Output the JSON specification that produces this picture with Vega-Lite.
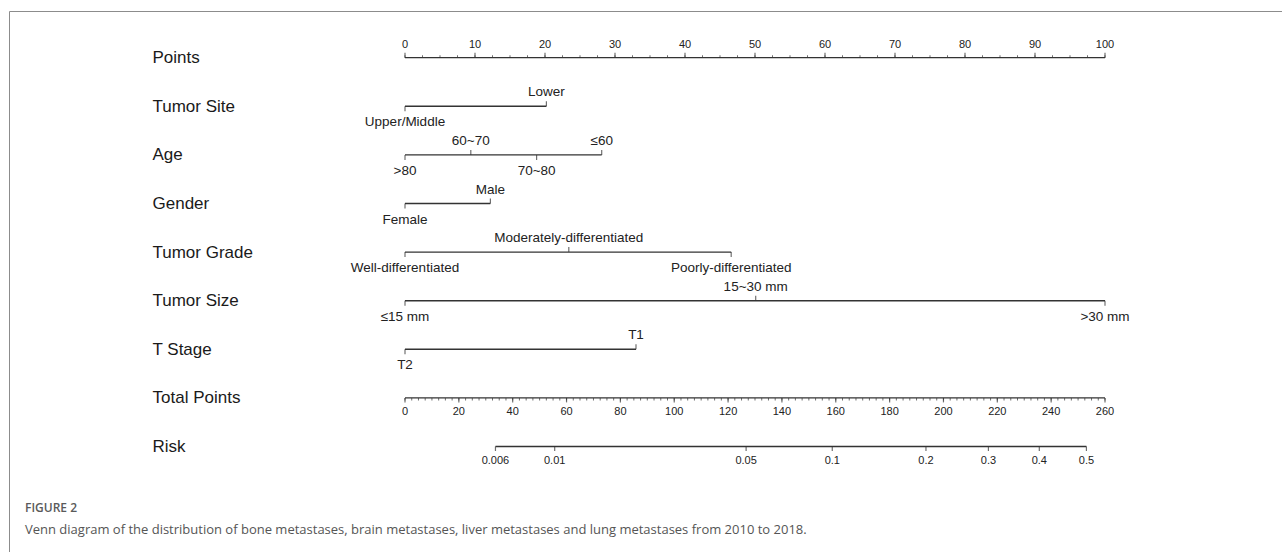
{
  "$schema": "https://vega.github.io/schema/vega-lite/v6.json",
  "width": 1273,
  "height": 541,
  "autosize": "none",
  "padding": {"left": 9, "top": 11, "right": 0, "bottom": 0},
  "background": "white",
  "config": {
    "view": {"stroke": null},
    "font": "Liberation Sans",
    "axisY": {"domain": false, "ticks": false, "tickSize": 0, "grid": false, "labelAlign": "left", "labelBaseline": "middle", "labelPadding": -143, "labelFont": "Liberation Sans", "labelFontSize": 17, "labelColor": "#1a1a1a", "labelFlush": false, "labelOverlap": false, "labelBound": false, "labelLimit": 0}
  },
  "title": {
    "text": "FIGURE 2",
    "subtitle": "Venn diagram of the distribution of bone metastases, brain metastases, liver metastases and lung metastases from 2010 to 2018.",
    "orient": "bottom",
    "anchor": "start",
    "frame": "group",
    "offset": -52,
    "dx": 16,
    "font": "Open Sans",
    "fontSize": 12,
    "fontWeight": 600,
    "color": "#5a5a5a",
    "subtitleFont": "Open Sans",
    "subtitleFontSize": 13,
    "subtitleColor": "#555555",
    "subtitlePadding": 9
  },
  "datasets": {
    "levels": [
      {"var": "Tumor Site", "level": "Upper/Middle", "pts": 0, "side": "below"},
      {"var": "Tumor Site", "level": "Lower", "pts": 20.2, "side": "above"},
      {"var": "Age", "level": ">80", "pts": 0, "side": "below"},
      {"var": "Age", "level": "60~70", "pts": 9.4, "side": "above"},
      {"var": "Age", "level": "70~80", "pts": 18.8, "side": "below"},
      {"var": "Age", "level": "≤60", "pts": 28.1, "side": "above"},
      {"var": "Gender", "level": "Female", "pts": 0, "side": "below"},
      {"var": "Gender", "level": "Male", "pts": 12.2, "side": "above"},
      {"var": "Tumor Grade", "level": "Well-differentiated", "pts": 0, "side": "below"},
      {"var": "Tumor Grade", "level": "Moderately-differentiated", "pts": 23.4, "side": "above"},
      {"var": "Tumor Grade", "level": "Poorly-differentiated", "pts": 46.6, "side": "below"},
      {"var": "Tumor Size", "level": "≤15 mm", "pts": 0, "side": "below"},
      {"var": "Tumor Size", "level": "15~30 mm", "pts": 50.1, "side": "above"},
      {"var": "Tumor Size", "level": ">30 mm", "pts": 100, "side": "below"},
      {"var": "T Stage", "level": "T2", "pts": 0, "side": "below"},
      {"var": "T Stage", "level": "T1", "pts": 33, "side": "above"}
    ],
    "pointsMajor": [
      {"v": 0}, {"v": 10}, {"v": 20}, {"v": 30}, {"v": 40}, {"v": 50},
      {"v": 60}, {"v": 70}, {"v": 80}, {"v": 90}, {"v": 100}
    ],
    "pointsMinor": [
      {"v": 0}, {"v": 2.5}, {"v": 5}, {"v": 7.5}, {"v": 10}, {"v": 12.5}, {"v": 15}, {"v": 17.5},
      {"v": 20}, {"v": 22.5}, {"v": 25}, {"v": 27.5}, {"v": 30}, {"v": 32.5}, {"v": 35}, {"v": 37.5},
      {"v": 40}, {"v": 42.5}, {"v": 45}, {"v": 47.5}, {"v": 50}, {"v": 52.5}, {"v": 55}, {"v": 57.5},
      {"v": 60}, {"v": 62.5}, {"v": 65}, {"v": 67.5}, {"v": 70}, {"v": 72.5}, {"v": 75}, {"v": 77.5},
      {"v": 80}, {"v": 82.5}, {"v": 85}, {"v": 87.5}, {"v": 90}, {"v": 92.5}, {"v": 95}, {"v": 97.5},
      {"v": 100}
    ],
    "totalMajor": [
      {"t": 0}, {"t": 20}, {"t": 40}, {"t": 60}, {"t": 80}, {"t": 100}, {"t": 120},
      {"t": 140}, {"t": 160}, {"t": 180}, {"t": 200}, {"t": 220}, {"t": 240}, {"t": 260}
    ],
    "totalMinor": [
      {"t": 0}, {"t": 2.5}, {"t": 5}, {"t": 7.5}, {"t": 10}, {"t": 12.5}, {"t": 15}, {"t": 17.5},
      {"t": 20}, {"t": 22.5}, {"t": 25}, {"t": 27.5}, {"t": 30}, {"t": 32.5}, {"t": 35}, {"t": 37.5},
      {"t": 40}, {"t": 42.5}, {"t": 45}, {"t": 47.5}, {"t": 50}, {"t": 52.5}, {"t": 55}, {"t": 57.5},
      {"t": 60}, {"t": 62.5}, {"t": 65}, {"t": 67.5}, {"t": 70}, {"t": 72.5}, {"t": 75}, {"t": 77.5},
      {"t": 80}, {"t": 82.5}, {"t": 85}, {"t": 87.5}, {"t": 90}, {"t": 92.5}, {"t": 95}, {"t": 97.5},
      {"t": 100}, {"t": 102.5}, {"t": 105}, {"t": 107.5}, {"t": 110}, {"t": 112.5}, {"t": 115}, {"t": 117.5},
      {"t": 120}, {"t": 122.5}, {"t": 125}, {"t": 127.5}, {"t": 130}, {"t": 132.5}, {"t": 135}, {"t": 137.5},
      {"t": 140}, {"t": 142.5}, {"t": 145}, {"t": 147.5}, {"t": 150}, {"t": 152.5}, {"t": 155}, {"t": 157.5},
      {"t": 160}, {"t": 162.5}, {"t": 165}, {"t": 167.5}, {"t": 170}, {"t": 172.5}, {"t": 175}, {"t": 177.5},
      {"t": 180}, {"t": 182.5}, {"t": 185}, {"t": 187.5}, {"t": 190}, {"t": 192.5}, {"t": 195}, {"t": 197.5},
      {"t": 200}, {"t": 202.5}, {"t": 205}, {"t": 207.5}, {"t": 210}, {"t": 212.5}, {"t": 215}, {"t": 217.5},
      {"t": 220}, {"t": 222.5}, {"t": 225}, {"t": 227.5}, {"t": 230}, {"t": 232.5}, {"t": 235}, {"t": 237.5},
      {"t": 240}, {"t": 242.5}, {"t": 245}, {"t": 247.5}, {"t": 250}, {"t": 252.5}, {"t": 255}, {"t": 257.5},
      {"t": 260}
    ],
    "risk": [
      {"risk": "0.006", "t": 33.6},
      {"risk": "0.01", "t": 55.6},
      {"risk": "0.05", "t": 126.7},
      {"risk": "0.1", "t": 158.7},
      {"risk": "0.2", "t": 193.5},
      {"risk": "0.3", "t": 216.7},
      {"risk": "0.4", "t": 235.6},
      {"risk": "0.5", "t": 253.1}
    ]
  },
  "layer": [
    {
      "data": {"values": [{}]},
      "mark": {"type": "point", "opacity": 0},
      "encoding": {
        "x": {"datum": 0, "type": "quantitative", "scale": {"domain": [0, 1]},
              "axis": {"orient": "top", "domain": true, "domainColor": "#8c8c8c", "domainWidth": 1, "ticks": false, "labels": false, "grid": false, "title": null}},
        "y": {"datum": 0, "type": "quantitative", "scale": {"domain": [0, 1]},
              "axis": {"orient": "left", "domain": true, "domainColor": "#8c8c8c", "domainWidth": 1, "ticks": false, "labels": false, "grid": false, "title": null}}
      }
    },
    {
      "layer": [
        {
          "layer": [
            {
              "data": {"name": "levels"},
              "mark": {"type": "rule", "color": "#333333", "strokeWidth": 1.4},
              "encoding": {
                "x": {"aggregate": "min", "field": "pts", "type": "quantitative", "scale": {"domain": [0, 100], "range": [396, 1096]}, "axis": null},
                "x2": {"aggregate": "max", "field": "pts"},
                "y": {"field": "var", "type": "nominal",
                      "scale": {"type": "point", "domain": ["Points", "Tumor Site", "Age", "Gender", "Tumor Grade", "Tumor Size", "T Stage", "Total Points", "Risk"], "range": [46.7, 435.5], "padding": 0},
                      "axis": {"orient": "left", "title": null}}
              }
            },
            {
              "data": {"name": "levels"},
              "transform": [{"filter": "datum.side === 'above'"}],
              "mark": {"type": "tick", "orient": "vertical", "size": 5, "thickness": 1.2, "yOffset": -2.5, "color": "#333333"},
              "encoding": {
                "x": {"field": "pts", "type": "quantitative", "scale": {"domain": [0, 100], "range": [396, 1096]}, "axis": null},
                "y": {"field": "var", "type": "nominal", "scale": {"type": "point", "domain": ["Points", "Tumor Site", "Age", "Gender", "Tumor Grade", "Tumor Size", "T Stage", "Total Points", "Risk"], "range": [46.7, 435.5], "padding": 0}, "axis": {"orient": "left", "title": null}}
              }
            },
            {
              "data": {"name": "levels"},
              "transform": [{"filter": "datum.side === 'below'"}],
              "mark": {"type": "tick", "orient": "vertical", "size": 5, "thickness": 1.2, "yOffset": 2.5, "color": "#333333"},
              "encoding": {
                "x": {"field": "pts", "type": "quantitative", "scale": {"domain": [0, 100], "range": [396, 1096]}, "axis": null},
                "y": {"field": "var", "type": "nominal", "scale": {"type": "point", "domain": ["Points", "Tumor Site", "Age", "Gender", "Tumor Grade", "Tumor Size", "T Stage", "Total Points", "Risk"], "range": [46.7, 435.5], "padding": 0}, "axis": {"orient": "left", "title": null}}
              }
            },
            {
              "data": {"name": "levels"},
              "transform": [{"filter": "datum.side === 'above'"}],
              "mark": {"type": "text", "dy": -14, "baseline": "middle", "align": "center", "font": "Liberation Sans", "fontSize": 13.5, "color": "#222222"},
              "encoding": {
                "x": {"field": "pts", "type": "quantitative", "scale": {"domain": [0, 100], "range": [396, 1096]}, "axis": null},
                "y": {"field": "var", "type": "nominal", "scale": {"type": "point", "domain": ["Points", "Tumor Site", "Age", "Gender", "Tumor Grade", "Tumor Size", "T Stage", "Total Points", "Risk"], "range": [46.7, 435.5], "padding": 0}, "axis": {"orient": "left", "title": null}},
                "text": {"field": "level"}
              }
            },
            {
              "data": {"name": "levels"},
              "transform": [{"filter": "datum.side === 'below'"}],
              "mark": {"type": "text", "dy": 16, "baseline": "middle", "align": "center", "font": "Liberation Sans", "fontSize": 13.5, "color": "#222222"},
              "encoding": {
                "x": {"field": "pts", "type": "quantitative", "scale": {"domain": [0, 100], "range": [396, 1096]}, "axis": null},
                "y": {"field": "var", "type": "nominal", "scale": {"type": "point", "domain": ["Points", "Tumor Site", "Age", "Gender", "Tumor Grade", "Tumor Size", "T Stage", "Total Points", "Risk"], "range": [46.7, 435.5], "padding": 0}, "axis": {"orient": "left", "title": null}},
                "text": {"field": "level"}
              }
            },
            {
              "data": {"name": "pointsMinor"},
              "mark": {"type": "rule", "color": "#333333", "strokeWidth": 1.3},
              "encoding": {
                "x": {"aggregate": "min", "field": "v", "type": "quantitative", "scale": {"domain": [0, 100], "range": [396, 1096]}, "axis": null},
                "x2": {"aggregate": "max", "field": "v"},
                "y": {"datum": "Points", "type": "nominal", "scale": {"type": "point", "domain": ["Points", "Tumor Site", "Age", "Gender", "Tumor Grade", "Tumor Size", "T Stage", "Total Points", "Risk"], "range": [46.7, 435.5], "padding": 0}, "axis": {"orient": "left", "title": null}}
              }
            },
            {
              "data": {"name": "pointsMinor"},
              "mark": {"type": "tick", "orient": "vertical", "size": 2.5, "thickness": 1, "yOffset": -1.25, "color": "#333333"},
              "encoding": {
                "x": {"field": "v", "type": "quantitative", "scale": {"domain": [0, 100], "range": [396, 1096]}, "axis": null},
                "y": {"datum": "Points", "type": "nominal", "scale": {"type": "point", "domain": ["Points", "Tumor Site", "Age", "Gender", "Tumor Grade", "Tumor Size", "T Stage", "Total Points", "Risk"], "range": [46.7, 435.5], "padding": 0}, "axis": {"orient": "left", "title": null}}
              }
            },
            {
              "data": {"name": "pointsMajor"},
              "mark": {"type": "tick", "orient": "vertical", "size": 5, "thickness": 1.2, "yOffset": -2.5, "color": "#333333"},
              "encoding": {
                "x": {"field": "v", "type": "quantitative", "scale": {"domain": [0, 100], "range": [396, 1096]}, "axis": null},
                "y": {"datum": "Points", "type": "nominal", "scale": {"type": "point", "domain": ["Points", "Tumor Site", "Age", "Gender", "Tumor Grade", "Tumor Size", "T Stage", "Total Points", "Risk"], "range": [46.7, 435.5], "padding": 0}, "axis": {"orient": "left", "title": null}}
              }
            },
            {
              "data": {"name": "pointsMajor"},
              "mark": {"type": "text", "dy": -13, "baseline": "middle", "align": "center", "font": "Liberation Sans", "fontSize": 11, "color": "#222222"},
              "encoding": {
                "x": {"field": "v", "type": "quantitative", "scale": {"domain": [0, 100], "range": [396, 1096]}, "axis": null},
                "y": {"datum": "Points", "type": "nominal", "scale": {"type": "point", "domain": ["Points", "Tumor Site", "Age", "Gender", "Tumor Grade", "Tumor Size", "T Stage", "Total Points", "Risk"], "range": [46.7, 435.5], "padding": 0}, "axis": {"orient": "left", "title": null}},
                "text": {"field": "v", "type": "quantitative"}
              }
            }
          ]
        },
        {
          "layer": [
            {
              "data": {"name": "totalMinor"},
              "mark": {"type": "rule", "color": "#333333", "strokeWidth": 1.3},
              "encoding": {
                "x": {"aggregate": "min", "field": "t", "type": "quantitative", "scale": {"domain": [0, 260], "range": [396, 1096]}, "axis": null},
                "x2": {"aggregate": "max", "field": "t"},
                "y": {"datum": "Total Points", "type": "nominal", "scale": {"type": "point", "domain": ["Points", "Tumor Site", "Age", "Gender", "Tumor Grade", "Tumor Size", "T Stage", "Total Points", "Risk"], "range": [46.7, 435.5], "padding": 0}, "axis": {"orient": "left", "title": null}}
              }
            },
            {
              "data": {"name": "totalMinor"},
              "mark": {"type": "tick", "orient": "vertical", "size": 2.5, "thickness": 1, "yOffset": 1.25, "color": "#333333"},
              "encoding": {
                "x": {"field": "t", "type": "quantitative", "scale": {"domain": [0, 260], "range": [396, 1096]}, "axis": null},
                "y": {"datum": "Total Points", "type": "nominal", "scale": {"type": "point", "domain": ["Points", "Tumor Site", "Age", "Gender", "Tumor Grade", "Tumor Size", "T Stage", "Total Points", "Risk"], "range": [46.7, 435.5], "padding": 0}, "axis": {"orient": "left", "title": null}}
              }
            },
            {
              "data": {"name": "totalMajor"},
              "mark": {"type": "tick", "orient": "vertical", "size": 4.5, "thickness": 1.2, "yOffset": 2.25, "color": "#333333"},
              "encoding": {
                "x": {"field": "t", "type": "quantitative", "scale": {"domain": [0, 260], "range": [396, 1096]}, "axis": null},
                "y": {"datum": "Total Points", "type": "nominal", "scale": {"type": "point", "domain": ["Points", "Tumor Site", "Age", "Gender", "Tumor Grade", "Tumor Size", "T Stage", "Total Points", "Risk"], "range": [46.7, 435.5], "padding": 0}, "axis": {"orient": "left", "title": null}}
              }
            },
            {
              "data": {"name": "totalMajor"},
              "mark": {"type": "text", "dy": 14, "baseline": "middle", "align": "center", "font": "Liberation Sans", "fontSize": 11, "color": "#222222"},
              "encoding": {
                "x": {"field": "t", "type": "quantitative", "scale": {"domain": [0, 260], "range": [396, 1096]}, "axis": null},
                "y": {"datum": "Total Points", "type": "nominal", "scale": {"type": "point", "domain": ["Points", "Tumor Site", "Age", "Gender", "Tumor Grade", "Tumor Size", "T Stage", "Total Points", "Risk"], "range": [46.7, 435.5], "padding": 0}, "axis": {"orient": "left", "title": null}},
                "text": {"field": "t", "type": "quantitative"}
              }
            },
            {
              "data": {"name": "risk"},
              "mark": {"type": "rule", "color": "#333333", "strokeWidth": 1.3},
              "encoding": {
                "x": {"aggregate": "min", "field": "t", "type": "quantitative", "scale": {"domain": [0, 260], "range": [396, 1096]}, "axis": null},
                "x2": {"aggregate": "max", "field": "t"},
                "y": {"datum": "Risk", "type": "nominal", "scale": {"type": "point", "domain": ["Points", "Tumor Site", "Age", "Gender", "Tumor Grade", "Tumor Size", "T Stage", "Total Points", "Risk"], "range": [46.7, 435.5], "padding": 0}, "axis": {"orient": "left", "title": null}}
              }
            },
            {
              "data": {"name": "risk"},
              "mark": {"type": "tick", "orient": "vertical", "size": 4.5, "thickness": 1.2, "yOffset": 2.25, "color": "#333333"},
              "encoding": {
                "x": {"field": "t", "type": "quantitative", "scale": {"domain": [0, 260], "range": [396, 1096]}, "axis": null},
                "y": {"datum": "Risk", "type": "nominal", "scale": {"type": "point", "domain": ["Points", "Tumor Site", "Age", "Gender", "Tumor Grade", "Tumor Size", "T Stage", "Total Points", "Risk"], "range": [46.7, 435.5], "padding": 0}, "axis": {"orient": "left", "title": null}}
              }
            },
            {
              "data": {"name": "risk"},
              "mark": {"type": "text", "dy": 14.5, "baseline": "middle", "align": "center", "font": "Liberation Sans", "fontSize": 11, "color": "#222222"},
              "encoding": {
                "x": {"field": "t", "type": "quantitative", "scale": {"domain": [0, 260], "range": [396, 1096]}, "axis": null},
                "y": {"datum": "Risk", "type": "nominal", "scale": {"type": "point", "domain": ["Points", "Tumor Site", "Age", "Gender", "Tumor Grade", "Tumor Size", "T Stage", "Total Points", "Risk"], "range": [46.7, 435.5], "padding": 0}, "axis": {"orient": "left", "title": null}},
                "text": {"field": "risk"}
              }
            }
          ]
        }
      ],
      "resolve": {"scale": {"x": "independent"}}
    }
  ],
  "resolve": {"scale": {"x": "independent", "y": "independent"}}
}
